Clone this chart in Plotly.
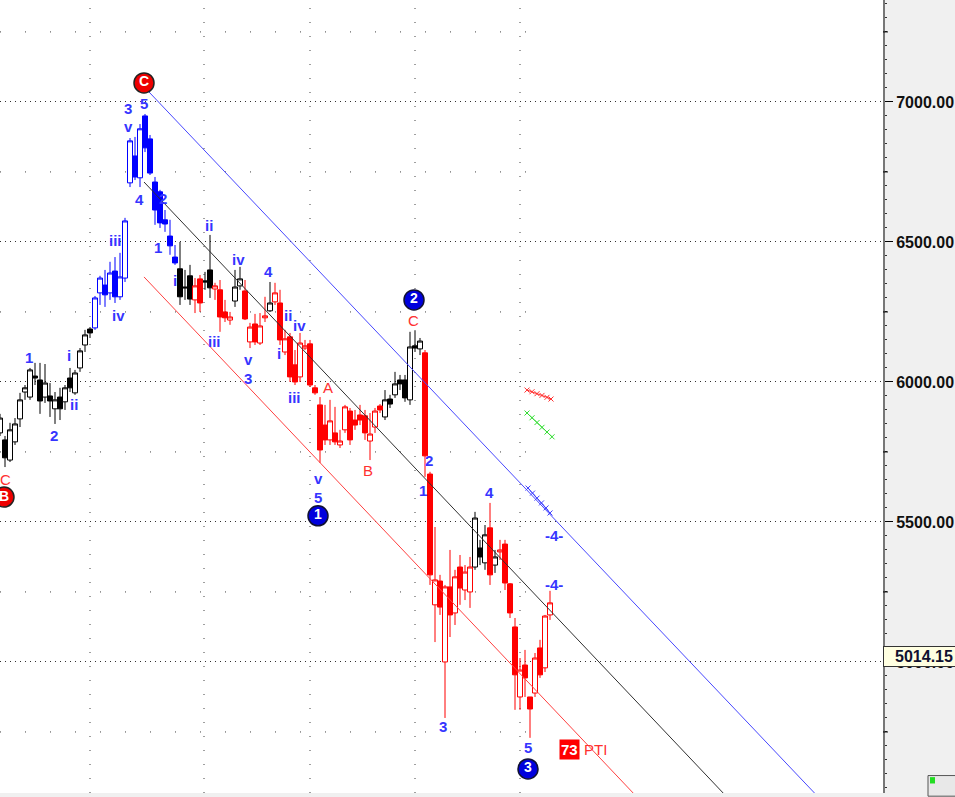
import plotly.graph_objects as go

# ---------------- data ----------------
candle_x = list(range(111))
opens = [5818, 5793, 5721, 5786, 5868, 5964, 5946, 6021, 6007, 5946,
         5950, 5904, 5946, 5929, 6014, 5961, 6050, 6132, 6189, 6193,
         6318, 6346, 6318, 6396, 6304, 6371, 6711, 6807, 6729, 6950,
         6868, 6714, 6679, 6579, 6521, 6446, 6404, 6339, 6379, 6293,
         6368, 6361, 6400, 6332, 6329, 6250, 6221, 6289, 6343, 6325,
         6143, 6207, 6139, 6229, 6254, 6286, 6282, 6107, 6161, 6061,
         6018, 6121, 6136, 5979, 5918, 5846, 5793, 5818, 5775, 5829,
         5896, 5864, 5882, 5879, 5789, 5839, 5914, 5875, 5939, 5954,
         6007, 6007, 5936, 6129, 6118, 6104, 5671, 5204, 5289, 5000,
         5268, 5175, 5339, 5257, 5250, 5339, 5407, 5354, 5479, 5346,
         5393, 5421, 5279, 5125, 4875, 4989, 4875, 4889, 5050, 4979,
         5168]
highs = [5886, 5807, 5854, 5871, 5961, 5989, 6050, 6068, 6068, 6064,
         5996, 5964, 5979, 5989, 6050, 6043, 6121, 6186, 6196, 6307,
         6379, 6400, 6429, 6446, 6461, 6586, 6871, 6875, 6921, 6957,
         6882, 6732, 6686, 6614, 6579, 6489, 6500, 6400, 6418, 6371,
         6382, 6393, 6525, 6354, 6364, 6293, 6250, 6400, 6411, 6364,
         6211, 6243, 6246, 6304, 6357, 6354, 6329, 6186, 6175, 6114,
         6175, 6150, 6150, 5989, 5946, 5918, 5936, 5911, 5829, 5918,
         5907, 5900, 5918, 5900, 5889, 5907, 5921, 5971, 5954, 6036,
         6025, 6025, 6179, 6182, 6157, 6114, 5679, 5482, 5311, 5275,
         5400, 5329, 5382, 5346, 5375, 5536, 5436, 5489, 5568, 5400,
         5436, 5436, 5282, 5157, 5014, 5043, 4875, 5032, 5079, 5168,
         5254]
lows = [5807, 5696, 5714, 5775, 5839, 5936, 5936, 5989, 5886, 5925,
        5875, 5850, 5864, 5900, 5964, 5954, 6036, 6107, 6157, 6186,
        6275, 6268, 6293, 6282, 6293, 6357, 6696, 6721, 6696, 6821,
        6739, 6561, 6550, 6536, 6454, 6418, 6275, 6293, 6275, 6246,
        6250, 6329, 6300, 6293, 6179, 6214, 6204, 6268, 6329, 6221,
        6121, 6132, 6132, 6214, 6250, 6275, 6132, 6096, 6000, 5989,
        6000, 6114, 5982, 5954, 5711, 5775, 5775, 5775, 5764, 5818,
        5775, 5829, 5846, 5793, 5721, 5818, 5889, 5864, 5907, 5943,
        5971, 5929, 5918, 6107, 6096, 5661, 5275, 5071, 5168, 4800,
        5089, 5132, 5204, 5221, 5193, 5329, 5346, 5329, 5275, 5318,
        5364, 5257, 5157, 4829, 4829, 4875, 4729, 4875, 4943, 4964,
        5150]
closes = [5871, 5729, 5829, 5850, 5936, 5979, 6043, 6014, 5932, 5996,
          5932, 5936, 5904, 5979, 5979, 6032, 6111, 6168, 6175, 6300,
          6371, 6311, 6389, 6304, 6375, 6575, 6861, 6732, 6904, 6836,
          6746, 6614, 6568, 6564, 6486, 6425, 6304, 6336, 6296, 6343,
          6282, 6357, 6336, 6343, 6232, 6229, 6232, 6339, 6368, 6225,
          6196, 6143, 6200, 6236, 6282, 6318, 6150, 6154, 6018, 6000,
          6139, 6129, 5989, 5961, 5757, 5793, 5861, 5786, 5789, 5911,
          5793, 5846, 5864, 5818, 5814, 5896, 5900, 5936, 5921, 5993,
          5993, 5943, 6125, 6121, 6146, 5736, 5311, 5293, 5196, 5268,
          5168, 5304, 5264, 5321, 5339, 5514, 5375, 5454, 5311, 5375,
          5400, 5282, 5175, 4954, 4971, 4943, 4832, 5014, 4954, 5164,
          5211]
# wave-degree colour class of each candle: k = black, b = blue, r = red
candle_class = ("k" * 19 + "b" * 17 + "k" * 3 + "r" * 2 + "k" * 2 + "r" * 4 +
                "k" * 2 + "r" * 5 + "k" + "r" * 22 + "k" * 8 + "r" * 10 +
                "k" * 3 + "r" + "k" + "r" * 11)

# channel lines (candle index, price)
upper_line_x = [29.4, 163.0]
upper_line_y = [7043, 4530]
middle_line_x = [28.8, 145.0]
middle_line_y = [6714, 4525]
lower_line_x = [28.8, 127.0]
lower_line_y = [6375, 4525]

# short projection ticks
red_proj_x = [105.4, 106.4, 107.4, 108.4, 109.4, 110.2]
red_proj_y = [5971, 5965, 5958, 5952, 5945, 5939]
green_proj_x = [105.4, 106.4, 107.4, 108.4, 109.4, 110.4]
green_proj_y = [5889, 5872, 5855, 5838, 5821, 5804]
blue_proj_x = [105.6, 106.5, 107.4, 108.3, 109.2, 110.0]
blue_proj_y = [5621, 5603, 5585, 5568, 5550, 5532]

# wave labels
blue_lbl_x = [5.8, 10.8, 13.8, 14.8, 23.0, 23.6, 25.6, 25.6, 28.8, 27.8, 32.6,
              31.6, 35.0, 41.8, 42.8, 47.6, 49.6, 49.6, 53.6, 57.6, 55.8, 59.8,
              58.8, 63.6, 63.6, 85.8, 84.6, 88.6, 97.8, 110.8, 110.8, 105.6]
blue_lbl_y = [6086, 5807, 6093, 5921, 6504, 6239, 6975, 6911, 6996, 6650, 6654,
              6479, 6361, 6557, 6143, 6439, 6080, 6014, 6393, 6239, 6100, 6200,
              5943, 5655, 5589, 5718, 5611, 4768, 5604, 5450, 5275, 4693]
blue_lbl_t = ["1", "2", "i", "ii", "iii", "iv", "3", "v", "5", "4", "2",
              "1", "i", "ii", "iii", "iv", "v", "3", "4", "ii", "i", "iv",
              "iii", "v", "5", "2", "1", "3", "4", "-4-", "-4-", "5"]
red_lbl_x = [1.0, 65.6, 73.6, 82.6]
red_lbl_y = [5650, 5979, 5682, 6218]
red_lbl_t = ["C", "A", "B", "C"]

red_circle_x = [0.8, 28.8]
red_circle_y = [5589, 7068]
red_circle_t = ["B", "C"]
blue_circle_x = [63.6, 82.8, 105.6]
blue_circle_y = [5522, 6293, 4618]
blue_circle_t = ["1", "2", "3"]

rti_value = "73"
rti_label = "PTI"
rti_x, rti_y = 113.8, 4689
last_price = 5014.15

major_ticks = [5000, 5500, 6000, 6500, 7000]
mid_ticks = [4750, 5250, 5750, 6250, 6750, 7250]
vgrid_x = [18, 40.8, 62, 83, 104]

# ---------------- figure ----------------
BLUE_TXT = "#3535ff"
RED_TXT = "#ff3030"
fig = go.Figure()

palette = {"k": "#000000", "b": "#0000ff", "r": "#ff0000"}
for key, col in palette.items():
    sel = [i for i, c in enumerate(candle_class) if c == key]
    fig.add_trace(go.Candlestick(
        x=[candle_x[i] for i in sel],
        open=[opens[i] for i in sel], high=[highs[i] for i in sel],
        low=[lows[i] for i in sel], close=[closes[i] for i in sel],
        increasing=dict(line=dict(color=col, width=1), fillcolor="white"),
        decreasing=dict(line=dict(color=col, width=1), fillcolor=col),
        whiskerwidth=0, hoverinfo="skip", showlegend=False))

for xs, ys, col in [(upper_line_x, upper_line_y, "#4848ff"),
                    (middle_line_x, middle_line_y, "#303030"),
                    (lower_line_x, lower_line_y, "#ff4040")]:
    fig.add_trace(go.Scatter(x=xs, y=ys, mode="lines",
                             line=dict(color=col, width=1), hoverinfo="skip"))

for xs, ys, col in [(red_proj_x, red_proj_y, "#ff3030"),
                    (green_proj_x, green_proj_y, "#33dd33"),
                    (blue_proj_x, blue_proj_y, "#4040ff")]:
    fig.add_trace(go.Scatter(x=xs, y=ys, mode="lines+markers",
                             line=dict(color=col, width=1),
                             marker=dict(symbol="x-thin", size=5,
                                         line=dict(color=col, width=1)),
                             hoverinfo="skip"))

fig.add_trace(go.Scatter(x=red_circle_x, y=red_circle_y, mode="markers+text",
                         text=red_circle_t, textposition="middle center",
                         textfont=dict(family="Arial", size=14, color="white", weight="bold"),
                         marker=dict(size=20, color="#ee0000",
                                     line=dict(color="#222222", width=1.5)),
                         hoverinfo="skip"))
fig.add_trace(go.Scatter(x=blue_circle_x, y=blue_circle_y, mode="markers+text",
                         text=blue_circle_t, textposition="middle center",
                         textfont=dict(family="Arial", size=14, color="white", weight="bold"),
                         marker=dict(size=20, color="#0000dd",
                                     line=dict(color="#111133", width=1.5)),
                         hoverinfo="skip"))

annotations = []
for x, y, t in zip(blue_lbl_x, blue_lbl_y, blue_lbl_t):
    annotations.append(dict(x=x, y=y, text=t, showarrow=False,
                            font=dict(family="Arial", size=15, color=BLUE_TXT, weight="bold")))
for x, y, t in zip(red_lbl_x, red_lbl_y, red_lbl_t):
    annotations.append(dict(x=x, y=y, text=t, showarrow=False,
                            font=dict(family="Arial", size=15, color=RED_TXT)))
annotations.append(dict(x=rti_x, y=rti_y, text=rti_value, showarrow=False,
                        bgcolor="#ff0000", borderpad=1,
                        font=dict(family="Arial", size=15, color="white", weight="bold")))
annotations.append(dict(x=rti_x + 2.6, y=rti_y, text=rti_label, showarrow=False,
                        xanchor="left",
                        font=dict(family="Arial", size=15, color=RED_TXT)))
annotations.append(dict(xref="paper", x=1.0, y=last_price, yshift=1,
                        text=f"{last_price:.2f}", showarrow=False,
                        xanchor="left", bgcolor="#ffffe1", bordercolor="#333333",
                        borderwidth=1, borderpad=1, width=78, align="center",
                        font=dict(family="Arial", size=16, color="#101030", weight="bold")))

shapes = []
for v in vgrid_x:
    shapes.append(dict(type="line", xref="x", yref="paper", x0=v, x1=v, y0=0, y1=1,
                       layer="below", line=dict(color="#404040", width=1, dash="1px,13px")))
for p in mid_ticks:
    shapes.append(dict(type="line", xref="x", yref="y", x0=0, x1=106, y0=p, y1=p,
                       layer="below", line=dict(color="#404040", width=1, dash="1px,24px")))
    shapes.append(dict(type="line", xref="paper", yref="y", x0=1.0, x1=1.0 + 5 / 883,
                       y0=p, y1=p, line=dict(color="black", width=1)))
# small status icon at lower right
shapes.append(dict(type="rect", xref="paper", yref="paper",
                   x0=1.0 + 45 / 883, x1=1.0 + 75 / 883, y0=-0.004, y1=0.022,
                   line=dict(color="#555555", width=1), fillcolor="#e8e8e8"))
shapes.append(dict(type="rect", xref="paper", yref="paper",
                   x0=1.0 + 47 / 883, x1=1.0 + 52 / 883, y0=0.012, y1=0.02,
                   line=dict(width=0), fillcolor="#22dd22"))

fig.update_layout(
    width=955, height=797,
    margin=dict(l=0, r=72, t=0, b=4),
    paper_bgcolor="#f0f0f0", plot_bgcolor="white",
    showlegend=False, boxgap=0.0, boxgroupgap=0.0,
    annotations=annotations, shapes=shapes,
    xaxis=dict(range=[0, 176.6], showgrid=False, zeroline=False,
               showticklabels=False, showline=False, ticks="",
               rangeslider=dict(visible=False), fixedrange=True),
    yaxis=dict(range=[4532, 7364], side="right", tickvals=major_ticks,
               tickformat=".2f", ticks="outside", ticklen=8, tickcolor="black",
               tickfont=dict(family="Arial", size=16, color="#101010", weight="bold"),
               showline=True, linecolor="#777777", linewidth=2,
               showgrid=True, gridcolor="#303030", griddash="1px,4px", gridwidth=1,
               zeroline=False, fixedrange=True,
               minor=dict(dtick=50, ticks="outside", ticklen=2, tickcolor="#333333",
                          showgrid=False)),
)

fig.write_html("out.html", config={"displayModeBar": False},
               post_script="document.body.style.margin='0';")
